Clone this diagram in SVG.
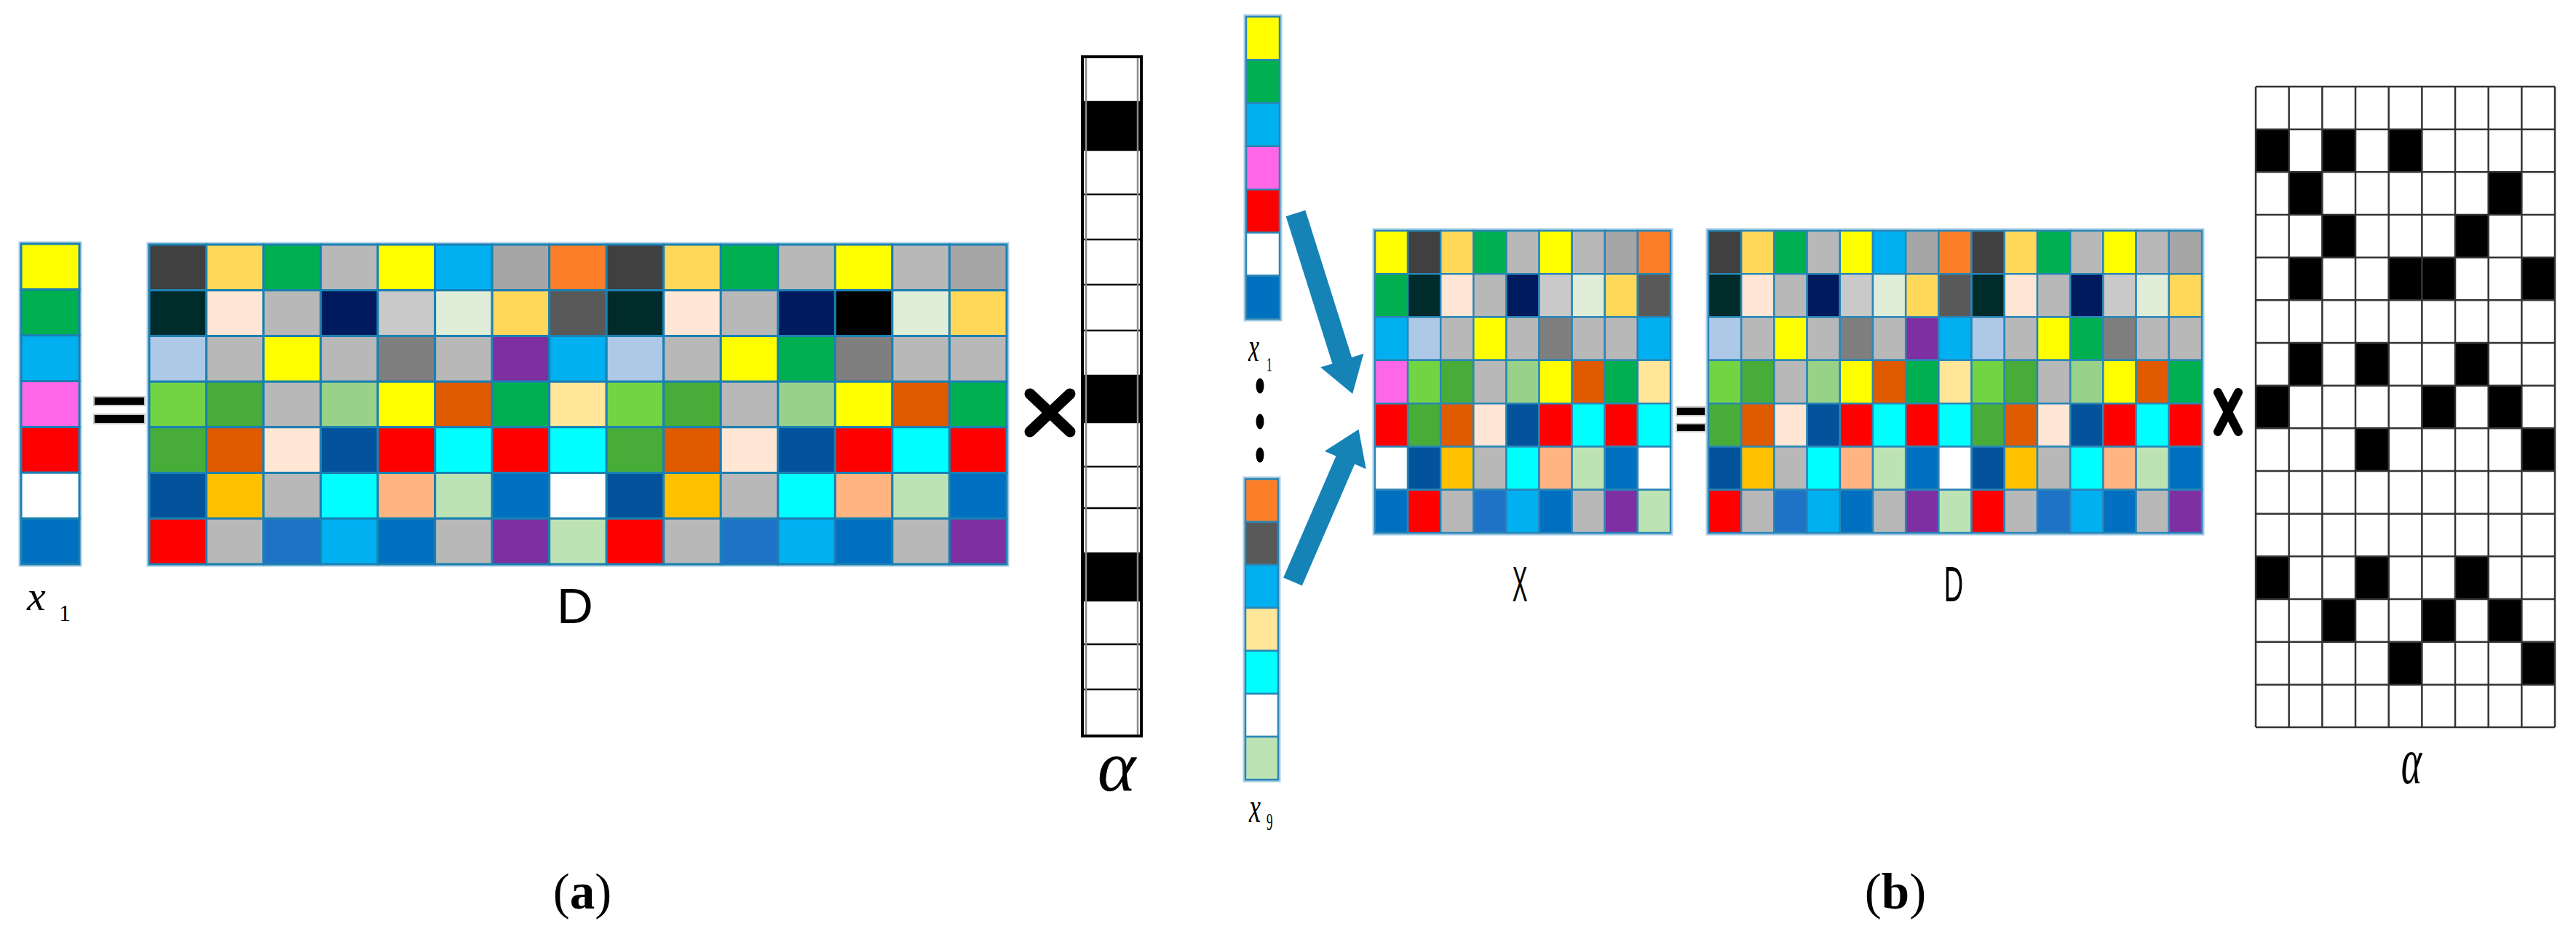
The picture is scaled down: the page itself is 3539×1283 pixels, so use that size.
<svg xmlns="http://www.w3.org/2000/svg" width="3539" height="1283" viewBox="0 0 3539 1283">
<style>
.ma rect{vector-effect:non-scaling-stroke;stroke:#1B80B2;stroke-width:3}
.mb rect{vector-effect:non-scaling-stroke;stroke:#2A86B6;stroke-width:2.5}
.halo{fill:none;stroke:#A9CDE6;stroke-width:3}
.dk{fill:#404040}.gd{fill:#FFD85A}.gr{fill:#00B050}.g{fill:#B8B8B8}.y{fill:#FFFF00}.bl{fill:#00B0F0}.ga{fill:#A6A6A6}.or{fill:#FD7E28}
.tl{fill:#002B2B}.pc{fill:#FFE6D5}.nv{fill:#001A5E}.lg{fill:#C9C9C9}.lgn{fill:#E0EED9}.d5{fill:#595959}.bk{fill:#000000}
.lb{fill:#AEC8E8}.g7{fill:#7F7F7F}.pu{fill:#7E2FA1}.lgr{fill:#72D443}.mg{fill:#47AD38}.pg{fill:#98D288}.ro{fill:#E05A00}
.ly{fill:#FFE699}.rd{fill:#FF0000}.cy{fill:#00FFFF}.db{fill:#03539C}.am{fill:#FFC000}.sa{fill:#FFB482}.mi{fill:#BDE3B4}
.mb2{fill:#0070C0}.wh{fill:#FFFFFF}.b2{fill:#1F73C7}.pk{fill:#FF66E8}
.lbl{font-family:"Liberation Sans",Arial,sans-serif;fill:#000}
.ser{font-family:"Liberation Serif","Times New Roman",serif;fill:#000}
.it{font-style:italic}
.eq{fill:#000;stroke:#C8C8C8;stroke-width:2}
.tm{stroke:#000;stroke-linecap:round;fill:none}
.arrow{fill:#1683B7}
</style>
<rect width="3539" height="1283" fill="#fff"/>

<!-- ===== (a) ===== -->
<g id="x1-a">
 <rect class="halo" x="27" y="333" width="84" height="444"/>
 <g class="ma" transform="translate(29,335) scale(80,62.86)">
  <rect class="y" x="0" y="0" width="1" height="1"/>
  <rect class="gr" x="0" y="1" width="1" height="1"/>
  <rect class="bl" x="0" y="2" width="1" height="1"/>
  <rect class="pk" x="0" y="3" width="1" height="1"/>
  <rect class="rd" x="0" y="4" width="1" height="1"/>
  <rect class="wh" x="0" y="5" width="1" height="1"/>
  <rect class="mb2" x="0" y="6" width="1" height="1"/>
 </g>
 <text class="ser it" x="37" y="838" font-size="58">x</text>
 <text class="ser" x="81" y="853" font-size="32">1</text>
</g>

<g id="eq-a">
 <rect class="eq" x="129" y="545" width="70" height="12"/>
 <rect class="eq" x="129" y="569" width="70" height="13"/>
</g>

<g id="D-a">
 <rect class="halo" x="203" y="334" width="1182" height="443"/>
 <g class="ma" transform="translate(205,336) scale(78.53,62.71)">
  <rect class="dk" x="0" y="0" width="1" height="1"/><rect class="gd" x="1" y="0" width="1" height="1"/><rect class="gr" x="2" y="0" width="1" height="1"/><rect class="g" x="3" y="0" width="1" height="1"/><rect class="y" x="4" y="0" width="1" height="1"/><rect class="bl" x="5" y="0" width="1" height="1"/><rect class="ga" x="6" y="0" width="1" height="1"/><rect class="or" x="7" y="0" width="1" height="1"/><rect class="dk" x="8" y="0" width="1" height="1"/><rect class="gd" x="9" y="0" width="1" height="1"/><rect class="gr" x="10" y="0" width="1" height="1"/><rect class="g" x="11" y="0" width="1" height="1"/><rect class="y" x="12" y="0" width="1" height="1"/><rect class="g" x="13" y="0" width="1" height="1"/><rect class="ga" x="14" y="0" width="1" height="1"/>
  <rect class="tl" x="0" y="1" width="1" height="1"/><rect class="pc" x="1" y="1" width="1" height="1"/><rect class="g" x="2" y="1" width="1" height="1"/><rect class="nv" x="3" y="1" width="1" height="1"/><rect class="lg" x="4" y="1" width="1" height="1"/><rect class="lgn" x="5" y="1" width="1" height="1"/><rect class="gd" x="6" y="1" width="1" height="1"/><rect class="d5" x="7" y="1" width="1" height="1"/><rect class="tl" x="8" y="1" width="1" height="1"/><rect class="pc" x="9" y="1" width="1" height="1"/><rect class="g" x="10" y="1" width="1" height="1"/><rect class="nv" x="11" y="1" width="1" height="1"/><rect class="bk" x="12" y="1" width="1" height="1"/><rect class="lgn" x="13" y="1" width="1" height="1"/><rect class="gd" x="14" y="1" width="1" height="1"/>
  <rect class="lb" x="0" y="2" width="1" height="1"/><rect class="g" x="1" y="2" width="1" height="1"/><rect class="y" x="2" y="2" width="1" height="1"/><rect class="g" x="3" y="2" width="1" height="1"/><rect class="g7" x="4" y="2" width="1" height="1"/><rect class="g" x="5" y="2" width="1" height="1"/><rect class="pu" x="6" y="2" width="1" height="1"/><rect class="bl" x="7" y="2" width="1" height="1"/><rect class="lb" x="8" y="2" width="1" height="1"/><rect class="g" x="9" y="2" width="1" height="1"/><rect class="y" x="10" y="2" width="1" height="1"/><rect class="gr" x="11" y="2" width="1" height="1"/><rect class="g7" x="12" y="2" width="1" height="1"/><rect class="g" x="13" y="2" width="1" height="1"/><rect class="g" x="14" y="2" width="1" height="1"/>
  <rect class="lgr" x="0" y="3" width="1" height="1"/><rect class="mg" x="1" y="3" width="1" height="1"/><rect class="g" x="2" y="3" width="1" height="1"/><rect class="pg" x="3" y="3" width="1" height="1"/><rect class="y" x="4" y="3" width="1" height="1"/><rect class="ro" x="5" y="3" width="1" height="1"/><rect class="gr" x="6" y="3" width="1" height="1"/><rect class="ly" x="7" y="3" width="1" height="1"/><rect class="lgr" x="8" y="3" width="1" height="1"/><rect class="mg" x="9" y="3" width="1" height="1"/><rect class="g" x="10" y="3" width="1" height="1"/><rect class="pg" x="11" y="3" width="1" height="1"/><rect class="y" x="12" y="3" width="1" height="1"/><rect class="ro" x="13" y="3" width="1" height="1"/><rect class="gr" x="14" y="3" width="1" height="1"/>
  <rect class="mg" x="0" y="4" width="1" height="1"/><rect class="ro" x="1" y="4" width="1" height="1"/><rect class="pc" x="2" y="4" width="1" height="1"/><rect class="db" x="3" y="4" width="1" height="1"/><rect class="rd" x="4" y="4" width="1" height="1"/><rect class="cy" x="5" y="4" width="1" height="1"/><rect class="rd" x="6" y="4" width="1" height="1"/><rect class="cy" x="7" y="4" width="1" height="1"/><rect class="mg" x="8" y="4" width="1" height="1"/><rect class="ro" x="9" y="4" width="1" height="1"/><rect class="pc" x="10" y="4" width="1" height="1"/><rect class="db" x="11" y="4" width="1" height="1"/><rect class="rd" x="12" y="4" width="1" height="1"/><rect class="cy" x="13" y="4" width="1" height="1"/><rect class="rd" x="14" y="4" width="1" height="1"/>
  <rect class="db" x="0" y="5" width="1" height="1"/><rect class="am" x="1" y="5" width="1" height="1"/><rect class="g" x="2" y="5" width="1" height="1"/><rect class="cy" x="3" y="5" width="1" height="1"/><rect class="sa" x="4" y="5" width="1" height="1"/><rect class="mi" x="5" y="5" width="1" height="1"/><rect class="mb2" x="6" y="5" width="1" height="1"/><rect class="wh" x="7" y="5" width="1" height="1"/><rect class="db" x="8" y="5" width="1" height="1"/><rect class="am" x="9" y="5" width="1" height="1"/><rect class="g" x="10" y="5" width="1" height="1"/><rect class="cy" x="11" y="5" width="1" height="1"/><rect class="sa" x="12" y="5" width="1" height="1"/><rect class="mi" x="13" y="5" width="1" height="1"/><rect class="mb2" x="14" y="5" width="1" height="1"/>
  <rect class="rd" x="0" y="6" width="1" height="1"/><rect class="g" x="1" y="6" width="1" height="1"/><rect class="b2" x="2" y="6" width="1" height="1"/><rect class="bl" x="3" y="6" width="1" height="1"/><rect class="mb2" x="4" y="6" width="1" height="1"/><rect class="g" x="5" y="6" width="1" height="1"/><rect class="pu" x="6" y="6" width="1" height="1"/><rect class="mi" x="7" y="6" width="1" height="1"/><rect class="rd" x="8" y="6" width="1" height="1"/><rect class="g" x="9" y="6" width="1" height="1"/><rect class="b2" x="10" y="6" width="1" height="1"/><rect class="bl" x="11" y="6" width="1" height="1"/><rect class="mb2" x="12" y="6" width="1" height="1"/><rect class="g" x="13" y="6" width="1" height="1"/><rect class="pu" x="14" y="6" width="1" height="1"/>
 </g>
 <text class="lbl" x="790" y="856" font-size="69" text-anchor="middle">D</text>
</g>

<g id="times-a">
 <line class="tm" stroke-width="15" x1="1415" y1="541" x2="1470" y2="593"/>
 <line class="tm" stroke-width="15" x1="1415" y1="593" x2="1470" y2="541"/>
</g>

<g id="alpha-a">
 <rect x="1487" y="78" width="81" height="933" fill="#fff"/>
 <rect x="1487" y="140" width="81" height="66" fill="#000"/>
 <rect x="1487" y="516" width="81" height="64" fill="#000"/>
 <rect x="1487" y="760" width="81" height="65" fill="#000"/>
 <path d="M1487 140H1568M1487 206H1568M1487 267H1568M1487 329H1568M1487 391H1568M1487 454H1568M1487 516H1568M1487 580H1568M1487 641H1568M1487 698H1568M1487 760H1568M1487 825H1568M1487 885H1568M1487 947H1568" stroke="#000" stroke-width="2.5" fill="none"/>
 <path d="M1492 78V1011M1563 78V1011" stroke="#8A8A8A" stroke-width="2.5" fill="none"/>
 <rect x="1487" y="78" width="81" height="933" fill="none" stroke="#000" stroke-width="4"/>
 <text class="ser it" x="1534" y="1086" font-size="100" text-anchor="middle">α</text>
</g>

<text id="label-a" class="ser" x="800" y="1248" font-size="69" text-anchor="middle">(<tspan font-weight="bold">a</tspan>)</text>

<!-- ===== (b) ===== -->
<g id="x1-b">
 <rect class="halo" x="1710" y="21" width="50" height="419"/>
 <g class="mb" transform="translate(1712,23) scale(46,59.29)">
  <rect class="y" x="0" y="0" width="1" height="1"/>
  <rect class="gr" x="0" y="1" width="1" height="1"/>
  <rect class="bl" x="0" y="2" width="1" height="1"/>
  <rect class="pk" x="0" y="3" width="1" height="1"/>
  <rect class="rd" x="0" y="4" width="1" height="1"/>
  <rect class="wh" x="0" y="5" width="1" height="1"/>
  <rect class="mb2" x="0" y="6" width="1" height="1"/>
 </g>
 <text class="ser it" transform="translate(1715,496) scale(0.6,1)" font-size="56">x</text>
 <text class="ser" transform="translate(1740,510) scale(0.55,1)" font-size="28">1</text>
</g>

<g id="dots-b">
 <ellipse cx="1731" cy="530" rx="5.5" ry="10.5" fill="#000"/>
 <ellipse cx="1731" cy="579" rx="5.5" ry="10.5" fill="#000"/>
 <ellipse cx="1731" cy="625" rx="5.5" ry="10.5" fill="#000"/>
</g>

<g id="x9-b">
 <rect class="halo" x="1709" y="656" width="49" height="417"/>
 <g class="mb" transform="translate(1711,658) scale(45,59)">
  <rect class="or" x="0" y="0" width="1" height="1"/>
  <rect class="d5" x="0" y="1" width="1" height="1"/>
  <rect class="bl" x="0" y="2" width="1" height="1"/>
  <rect class="ly" x="0" y="3" width="1" height="1"/>
  <rect class="cy" x="0" y="4" width="1" height="1"/>
  <rect class="wh" x="0" y="5" width="1" height="1"/>
  <rect class="mi" x="0" y="6" width="1" height="1"/>
 </g>
 <text class="ser it" transform="translate(1716,1129) scale(0.6,1)" font-size="60">x</text>
 <text class="ser" transform="translate(1740,1140) scale(0.5,1)" font-size="34">9</text>
</g>

<g id="connectors">
 <polygon class="arrow" transform="translate(1780,293) rotate(72.5)" points="0,-14 212,-14 212,-31 260,0 212,31 212,14 0,14"/>
 <polygon class="arrow" transform="translate(1776,799) rotate(-66.6)" points="0,-14 182,-14 182,-31 228,0 182,31 182,14 0,14"/>
</g>

<g id="X-b">
 <rect class="halo" x="1887" y="315" width="410" height="419"/>
 <g class="mb" transform="translate(1889,317) scale(45.11,59.29)">
  <rect class="y" x="0" y="0" width="1" height="1"/><rect class="dk" x="1" y="0" width="1" height="1"/><rect class="gd" x="2" y="0" width="1" height="1"/><rect class="gr" x="3" y="0" width="1" height="1"/><rect class="g" x="4" y="0" width="1" height="1"/><rect class="y" x="5" y="0" width="1" height="1"/><rect class="g" x="6" y="0" width="1" height="1"/><rect class="ga" x="7" y="0" width="1" height="1"/><rect class="or" x="8" y="0" width="1" height="1"/>
  <rect class="gr" x="0" y="1" width="1" height="1"/><rect class="tl" x="1" y="1" width="1" height="1"/><rect class="pc" x="2" y="1" width="1" height="1"/><rect class="g" x="3" y="1" width="1" height="1"/><rect class="nv" x="4" y="1" width="1" height="1"/><rect class="lg" x="5" y="1" width="1" height="1"/><rect class="lgn" x="6" y="1" width="1" height="1"/><rect class="gd" x="7" y="1" width="1" height="1"/><rect class="d5" x="8" y="1" width="1" height="1"/>
  <rect class="bl" x="0" y="2" width="1" height="1"/><rect class="lb" x="1" y="2" width="1" height="1"/><rect class="g" x="2" y="2" width="1" height="1"/><rect class="y" x="3" y="2" width="1" height="1"/><rect class="g" x="4" y="2" width="1" height="1"/><rect class="g7" x="5" y="2" width="1" height="1"/><rect class="g" x="6" y="2" width="1" height="1"/><rect class="g" x="7" y="2" width="1" height="1"/><rect class="bl" x="8" y="2" width="1" height="1"/>
  <rect class="pk" x="0" y="3" width="1" height="1"/><rect class="lgr" x="1" y="3" width="1" height="1"/><rect class="mg" x="2" y="3" width="1" height="1"/><rect class="g" x="3" y="3" width="1" height="1"/><rect class="pg" x="4" y="3" width="1" height="1"/><rect class="y" x="5" y="3" width="1" height="1"/><rect class="ro" x="6" y="3" width="1" height="1"/><rect class="gr" x="7" y="3" width="1" height="1"/><rect class="ly" x="8" y="3" width="1" height="1"/>
  <rect class="rd" x="0" y="4" width="1" height="1"/><rect class="mg" x="1" y="4" width="1" height="1"/><rect class="ro" x="2" y="4" width="1" height="1"/><rect class="pc" x="3" y="4" width="1" height="1"/><rect class="db" x="4" y="4" width="1" height="1"/><rect class="rd" x="5" y="4" width="1" height="1"/><rect class="cy" x="6" y="4" width="1" height="1"/><rect class="rd" x="7" y="4" width="1" height="1"/><rect class="cy" x="8" y="4" width="1" height="1"/>
  <rect class="wh" x="0" y="5" width="1" height="1"/><rect class="db" x="1" y="5" width="1" height="1"/><rect class="am" x="2" y="5" width="1" height="1"/><rect class="g" x="3" y="5" width="1" height="1"/><rect class="cy" x="4" y="5" width="1" height="1"/><rect class="sa" x="5" y="5" width="1" height="1"/><rect class="mi" x="6" y="5" width="1" height="1"/><rect class="mb2" x="7" y="5" width="1" height="1"/><rect class="wh" x="8" y="5" width="1" height="1"/>
  <rect class="mb2" x="0" y="6" width="1" height="1"/><rect class="rd" x="1" y="6" width="1" height="1"/><rect class="g" x="2" y="6" width="1" height="1"/><rect class="b2" x="3" y="6" width="1" height="1"/><rect class="bl" x="4" y="6" width="1" height="1"/><rect class="mb2" x="5" y="6" width="1" height="1"/><rect class="g" x="6" y="6" width="1" height="1"/><rect class="pu" x="7" y="6" width="1" height="1"/><rect class="mi" x="8" y="6" width="1" height="1"/>
 </g>
 <text class="lbl" transform="translate(2088,826) scale(0.45,1)" font-size="69" text-anchor="middle">X</text>
</g>

<g id="eq-b">
 <rect class="eq" x="2303" y="559" width="40" height="12"/>
 <rect class="eq" x="2303" y="582" width="40" height="11"/>
</g>

<g id="D-b">
 <rect class="halo" x="2345" y="315" width="682" height="419"/>
 <g class="mb" transform="translate(2347,317) scale(45.2,59.29)">
  <rect class="dk" x="0" y="0" width="1" height="1"/><rect class="gd" x="1" y="0" width="1" height="1"/><rect class="gr" x="2" y="0" width="1" height="1"/><rect class="g" x="3" y="0" width="1" height="1"/><rect class="y" x="4" y="0" width="1" height="1"/><rect class="bl" x="5" y="0" width="1" height="1"/><rect class="ga" x="6" y="0" width="1" height="1"/><rect class="or" x="7" y="0" width="1" height="1"/><rect class="dk" x="8" y="0" width="1" height="1"/><rect class="gd" x="9" y="0" width="1" height="1"/><rect class="gr" x="10" y="0" width="1" height="1"/><rect class="g" x="11" y="0" width="1" height="1"/><rect class="y" x="12" y="0" width="1" height="1"/><rect class="g" x="13" y="0" width="1" height="1"/><rect class="ga" x="14" y="0" width="1" height="1"/>
  <rect class="tl" x="0" y="1" width="1" height="1"/><rect class="pc" x="1" y="1" width="1" height="1"/><rect class="g" x="2" y="1" width="1" height="1"/><rect class="nv" x="3" y="1" width="1" height="1"/><rect class="lg" x="4" y="1" width="1" height="1"/><rect class="lgn" x="5" y="1" width="1" height="1"/><rect class="gd" x="6" y="1" width="1" height="1"/><rect class="d5" x="7" y="1" width="1" height="1"/><rect class="tl" x="8" y="1" width="1" height="1"/><rect class="pc" x="9" y="1" width="1" height="1"/><rect class="g" x="10" y="1" width="1" height="1"/><rect class="nv" x="11" y="1" width="1" height="1"/><rect class="lg" x="12" y="1" width="1" height="1"/><rect class="lgn" x="13" y="1" width="1" height="1"/><rect class="gd" x="14" y="1" width="1" height="1"/>
  <rect class="lb" x="0" y="2" width="1" height="1"/><rect class="g" x="1" y="2" width="1" height="1"/><rect class="y" x="2" y="2" width="1" height="1"/><rect class="g" x="3" y="2" width="1" height="1"/><rect class="g7" x="4" y="2" width="1" height="1"/><rect class="g" x="5" y="2" width="1" height="1"/><rect class="pu" x="6" y="2" width="1" height="1"/><rect class="bl" x="7" y="2" width="1" height="1"/><rect class="lb" x="8" y="2" width="1" height="1"/><rect class="g" x="9" y="2" width="1" height="1"/><rect class="y" x="10" y="2" width="1" height="1"/><rect class="gr" x="11" y="2" width="1" height="1"/><rect class="g7" x="12" y="2" width="1" height="1"/><rect class="g" x="13" y="2" width="1" height="1"/><rect class="g" x="14" y="2" width="1" height="1"/>
  <rect class="lgr" x="0" y="3" width="1" height="1"/><rect class="mg" x="1" y="3" width="1" height="1"/><rect class="g" x="2" y="3" width="1" height="1"/><rect class="pg" x="3" y="3" width="1" height="1"/><rect class="y" x="4" y="3" width="1" height="1"/><rect class="ro" x="5" y="3" width="1" height="1"/><rect class="gr" x="6" y="3" width="1" height="1"/><rect class="ly" x="7" y="3" width="1" height="1"/><rect class="lgr" x="8" y="3" width="1" height="1"/><rect class="mg" x="9" y="3" width="1" height="1"/><rect class="g" x="10" y="3" width="1" height="1"/><rect class="pg" x="11" y="3" width="1" height="1"/><rect class="y" x="12" y="3" width="1" height="1"/><rect class="ro" x="13" y="3" width="1" height="1"/><rect class="gr" x="14" y="3" width="1" height="1"/>
  <rect class="mg" x="0" y="4" width="1" height="1"/><rect class="ro" x="1" y="4" width="1" height="1"/><rect class="pc" x="2" y="4" width="1" height="1"/><rect class="db" x="3" y="4" width="1" height="1"/><rect class="rd" x="4" y="4" width="1" height="1"/><rect class="cy" x="5" y="4" width="1" height="1"/><rect class="rd" x="6" y="4" width="1" height="1"/><rect class="cy" x="7" y="4" width="1" height="1"/><rect class="mg" x="8" y="4" width="1" height="1"/><rect class="ro" x="9" y="4" width="1" height="1"/><rect class="pc" x="10" y="4" width="1" height="1"/><rect class="db" x="11" y="4" width="1" height="1"/><rect class="rd" x="12" y="4" width="1" height="1"/><rect class="cy" x="13" y="4" width="1" height="1"/><rect class="rd" x="14" y="4" width="1" height="1"/>
  <rect class="db" x="0" y="5" width="1" height="1"/><rect class="am" x="1" y="5" width="1" height="1"/><rect class="g" x="2" y="5" width="1" height="1"/><rect class="cy" x="3" y="5" width="1" height="1"/><rect class="sa" x="4" y="5" width="1" height="1"/><rect class="mi" x="5" y="5" width="1" height="1"/><rect class="mb2" x="6" y="5" width="1" height="1"/><rect class="wh" x="7" y="5" width="1" height="1"/><rect class="db" x="8" y="5" width="1" height="1"/><rect class="am" x="9" y="5" width="1" height="1"/><rect class="g" x="10" y="5" width="1" height="1"/><rect class="cy" x="11" y="5" width="1" height="1"/><rect class="sa" x="12" y="5" width="1" height="1"/><rect class="mi" x="13" y="5" width="1" height="1"/><rect class="mb2" x="14" y="5" width="1" height="1"/>
  <rect class="rd" x="0" y="6" width="1" height="1"/><rect class="g" x="1" y="6" width="1" height="1"/><rect class="b2" x="2" y="6" width="1" height="1"/><rect class="bl" x="3" y="6" width="1" height="1"/><rect class="mb2" x="4" y="6" width="1" height="1"/><rect class="g" x="5" y="6" width="1" height="1"/><rect class="pu" x="6" y="6" width="1" height="1"/><rect class="mi" x="7" y="6" width="1" height="1"/><rect class="rd" x="8" y="6" width="1" height="1"/><rect class="g" x="9" y="6" width="1" height="1"/><rect class="b2" x="10" y="6" width="1" height="1"/><rect class="bl" x="11" y="6" width="1" height="1"/><rect class="mb2" x="12" y="6" width="1" height="1"/><rect class="g" x="13" y="6" width="1" height="1"/><rect class="pu" x="14" y="6" width="1" height="1"/>
 </g>
 <text class="lbl" transform="translate(2684,826) scale(0.53,1)" font-size="69" text-anchor="middle">D</text>
</g>

<g id="times-b">
 <line class="tm" stroke-width="12" x1="3047" y1="539" x2="3075" y2="593"/>
 <line class="tm" stroke-width="12" x1="3047" y1="593" x2="3075" y2="539"/>
</g>

<g id="alpha-b">
 <g transform="translate(3099,119) scale(45.67,58.67)">
  <rect x="0" y="0" width="9" height="15" fill="#fff"/>
  <g fill="#000">
   <rect x="0" y="1" width="1" height="1"/><rect x="2" y="1" width="1" height="1"/><rect x="4" y="1" width="1" height="1"/>
   <rect x="1" y="2" width="1" height="1"/><rect x="7" y="2" width="1" height="1"/>
   <rect x="2" y="3" width="1" height="1"/><rect x="6" y="3" width="1" height="1"/>
   <rect x="1" y="4" width="1" height="1"/><rect x="4" y="4" width="1" height="1"/><rect x="5" y="4" width="1" height="1"/><rect x="8" y="4" width="1" height="1"/>
   <rect x="1" y="6" width="1" height="1"/><rect x="3" y="6" width="1" height="1"/><rect x="6" y="6" width="1" height="1"/>
   <rect x="0" y="7" width="1" height="1"/><rect x="5" y="7" width="1" height="1"/><rect x="7" y="7" width="1" height="1"/>
   <rect x="3" y="8" width="1" height="1"/><rect x="8" y="8" width="1" height="1"/>
   <rect x="0" y="11" width="1" height="1"/><rect x="3" y="11" width="1" height="1"/><rect x="6" y="11" width="1" height="1"/>
   <rect x="2" y="12" width="1" height="1"/><rect x="5" y="12" width="1" height="1"/><rect x="7" y="12" width="1" height="1"/>
   <rect x="4" y="13" width="1" height="1"/><rect x="8" y="13" width="1" height="1"/>
  </g>
  <path d="M0 0V15M1 0V15M2 0V15M3 0V15M4 0V15M5 0V15M6 0V15M7 0V15M8 0V15M9 0V15M0 0H9M0 1H9M0 2H9M0 3H9M0 4H9M0 5H9M0 6H9M0 7H9M0 8H9M0 9H9M0 10H9M0 11H9M0 12H9M0 13H9M0 14H9M0 15H9" fill="none" stroke="#333" stroke-width="2.5" vector-effect="non-scaling-stroke"/>
 </g>
 <text class="ser it" transform="translate(3313,1076) scale(0.6,1)" font-size="90" text-anchor="middle">α</text>
</g>

<text id="label-b" class="ser" x="2604" y="1248" font-size="69" text-anchor="middle">(<tspan font-weight="bold">b</tspan>)</text>
</svg>
